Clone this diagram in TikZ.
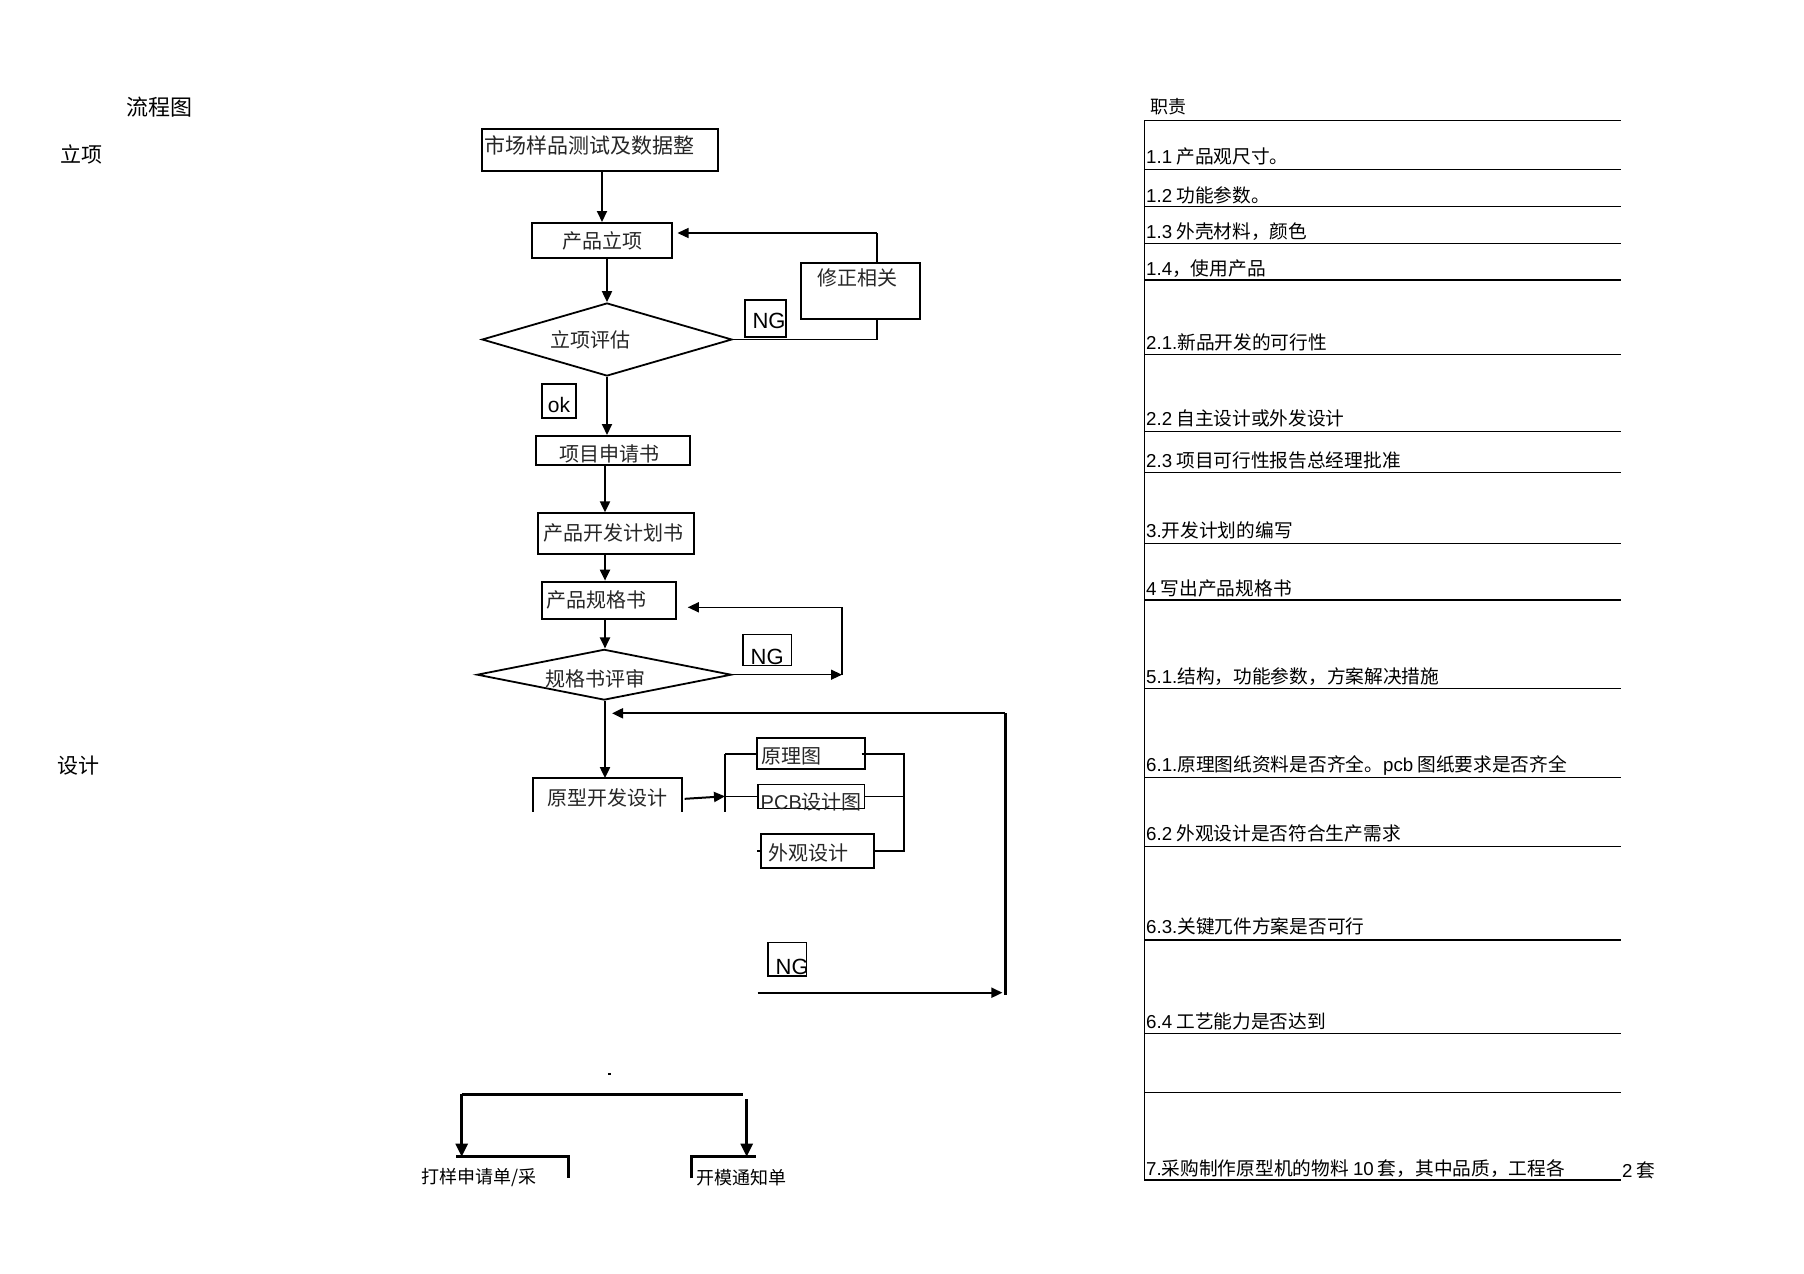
\documentclass[tikz,border=0pt]{standalone}
\usepackage{fontspec}
\setmainfont{Noto Sans CJK SC}
\newfontfamily\lat{Liberation Sans}
\usetikzlibrary{arrows.meta,shapes.geometric}
\newcommand\myfs[1]{\fontsize{#1pt}{#1pt}\selectfont}
\begin{document}
\begin{tikzpicture}[x=1pt,y=-1pt,
  box/.style={draw, line width=2pt, fill=white, inner sep=0pt, font=\myfs{20}, text=black!85},
  tbox/.style={draw, line width=1.4pt, fill=white, inner sep=0pt},
  dia/.style={draw, diamond, line width=1.8pt, inner sep=0pt, fill=white},
  lab/.style={font=\myfs{20}, text=black!85, inner sep=0pt},
  nglab/.style={font=\lat\myfs{22}, inner sep=0pt},
  arr/.style={line width=2pt, -{Triangle[length=11pt,width=10pt]}},
  tarr/.style={line width=1.4pt, -{Triangle[length=11pt,width=10pt]}},
  ln/.style={line width=2pt},
  tln/.style={line width=1.4pt},
  txt/.style={anchor=west, inner sep=0pt, font=\myfs{18.7}},
  rule/.style={line width=1.2pt}]
\useasboundingbox[fill=white] (0,0) rectangle (1804,1274);

% left titles
\node[anchor=west, inner sep=0pt, font=\myfs{22}] (tflow) at (126,106.7) {流程图};
\node[anchor=west, inner sep=0pt, font=\myfs{21}] (tli) at (60.7,154) {立项};
\node[anchor=west, inner sep=0pt, font=\myfs{21}] (tsj) at (57.5,766) {设计};

\coordinate (col) at (605,0);

% flowchart nodes
\node[box, minimum width=236pt, minimum height=42pt,
  label={[lab, font=\myfs{21}, xshift=-11pt, yshift=5pt]center:市场样品测试及数据整}] (n1) at (600,150) {};
\node[box, minimum width=140pt, minimum height=35pt] (n2) at (602,240.5) {产品立项};
\node[dia, minimum width=250pt, minimum height=73pt,
  label={[lab, xshift=-17pt]center:立项评估}] (d1) at (607,339.5) {};
\node[tbox, minimum width=41pt, minimum height=37pt,
  label={[nglab, xshift=3.5pt, yshift=-2pt]center:NG}] (ng1) at (765.5,318.5) {};
\node[tbox, minimum width=34pt, minimum height=34pt,
  label={[nglab, font=\lat\myfs{21}, yshift=-4pt]center:ok}] (ok) at (559,401) {};

\draw[arr] (n2.north |- n1.south) -- (n2.north);
\draw[arr] (d1.north |- n2.south) -- (d1.north);

% NG loop 1
\coordinate (L1) at (877,233);
\draw[tln] (d1.east) -| (L1);
\draw[tarr, shorten >=4.5pt] (L1) -- (L1 -| n2.east);
\node[tbox, minimum width=119pt, minimum height=56pt,
  label={[lab, xshift=-3.5pt, yshift=13pt]center:修正相关}] (n3) at (860.5,291) {};

\node[box, minimum width=153.6pt, minimum height=29pt,
  label={[lab, xshift=-3pt, yshift=-3pt]center:项目申请书}] (n4) at (612.8,450.5) {};
\node[box, minimum width=156.4pt, minimum height=40.7pt,
  label={[lab, xshift=-2.5pt, yshift=1pt]center:产品开发计划书}] (n5) at (615.7,533.7) {};
\node[box, minimum width=133.7pt, minimum height=37.3pt,
  label={[lab, xshift=-12pt]center:产品规格书}] (n6) at (608.9,600.3) {};
\node[dia, minimum width=254.4pt, minimum height=50.7pt,
  label={[lab, xshift=-8.5pt, yshift=-4.5pt]center:规格书评审}] (d2) at (604.2,674.7) {};
\node[tbox, minimum width=48.5pt, minimum height=31.4pt,
  label={[nglab, yshift=-6.5pt]center:NG}] (ng2) at (767.2,650) {};

\draw[arr] (d1.south) -- (d1.south |- n4.north);
\draw[arr] (col |- n4.south) -- (col |- n5.north);
\draw[arr] (col |- n5.south) -- (col |- n6.north);
\draw[arr] (col |- n6.south) -- (col |- d2.north);

% NG loop 2
\coordinate (L2) at (842,607.3);
\draw[tarr] (d2.east) -- (d2.east -| L2);
\draw[tarr, shorten >=11pt] (d2.east -| L2) -- (L2) -- (L2 -| n6.east);

% design stage
\node[minimum width=148.2pt, minimum height=33.4pt, inner sep=0pt,
  label={[lab, yshift=-3pt]center:原型开发设计}] (n7) at (607.3,795) {};
\draw[ln] (n7.south west) -- (n7.north west) -- (n7.north east) -- (n7.south east);
\draw[arr] (col |- d2.south) -- (col |- n7.north);

\node[box, minimum width=107.6pt, minimum height=31pt,
  label={[lab, xshift=-19pt, yshift=-3pt]center:原理图}] (n8) at (810.8,753.8) {};
\node[box, line width=1.6pt, minimum width=106.6pt, minimum height=24pt,
  label={[lab, yshift=-5.5pt]center:{{\lat PCB}设计图}}] (n9) at (811.3,796.3) {};
\node[box, minimum width=112.6pt, minimum height=33.7pt,
  label={[lab, xshift=-9pt, yshift=-2.5pt]center:外观设计}] (n10) at (817.3,850.8) {};

\coordinate (BX) at (725,0);
\coordinate (RX) at (904,0);
\draw[ln] (BX |- n8.west) -- (BX |- n7.south);
\draw[ln] (BX |- n8.west) -- (n8.west);
\draw[tln] (BX |- n9.west) -- (n9.west);
\draw[arr, shorten <=3pt] ([yshift=-4pt]n7.east) -- (BX |- n9.west);
\draw[ln] ([xshift=-4pt]n8.east) -- (RX |- n8.east) -- (RX |- n10.east) -- (n10.east);
\draw[tln] (n9.east) -- (RX |- n9.east);
\draw[ln] (n10.west) -- ++(-3,0);

% NG return
\node[tbox, line width=1.2pt, minimum width=38.5pt, minimum height=33.3pt,
  label={[nglab, xshift=5pt, yshift=-8pt]center:NG}] (ng3) at (787.2,959.3) {};
\coordinate (N3s) at (757.5,992.7);
\coordinate (R1) at (1005.4,713.3);
\coordinate (R2) at (1005.4,995);
\draw[arr, shorten >=3pt] (N3s) -- (N3s -| R1);
\draw[line width=2.8pt] (R2) -- (R1);
\draw[arr, shorten >=7pt] (R1) -- (R1 -| col);

% bottom
\fill (608,1072.5) rectangle (611,1074.5);
\coordinate (H1) at (461.7,1094.3);
\coordinate (H2) at (743.3,1094.3);
\coordinate (H3) at (746.7,1099);
\coordinate (K1) at (456,1156.7);
\coordinate (K2) at (568.3,1156.7);
\coordinate (K3) at (568.3,1178.3);
\coordinate (M1) at (691.7,1178.3);
\coordinate (M2) at (691.7,1156.7);
\coordinate (M3) at (756,1156.7);
\draw[line width=2.6pt] (H1) -- (H2);
\draw[line width=2.6pt, -{Triangle[length=13pt,width=12pt]}] (H1) -- (H1 |- K1);
\draw[line width=2.6pt, -{Triangle[length=13pt,width=12pt]}] (H3) -- (H3 |- M3);
\draw[line width=2.6pt] (K1) -- (K2) -- (K3);
\draw[line width=2.6pt] (M1) -- (M2) -- (M3);
\node[txt, font=\myfs{18}] (b1) at (421.7,1178) {打样申请单/采};
\node[txt, font=\myfs{18}] (b2) at (696,1178) {开模通知单};

% right column
\node[txt, font=\myfs{18}] (zz) at (1150.7,106.7) {职责};
\foreach \yy in {120.7,169.3,206.7,243.3,280,354.3,431.7,472.3,543.3,600,688.3,777.7,846.7,940,1033.3,1092.3,1180}
  \draw[rule] (1144.3,\yy) -- (1621,\yy);
\draw[rule] (1144.3,120.7) -- (1144.3,1180);
\node[txt] (r1) at (1146,156.7) {{\lat 1.1} 产品观尺寸。};
\node[txt] (r2) at (1146,195) {{\lat 1.2} 功能参数。};
\node[txt] (r3) at (1146,231.7) {{\lat 1.3} 外壳材料，颜色};
\node[txt] (r4) at (1146,268.3) {{\lat 1.4}，使用产品};
\node[txt] (r5) at (1146,342.7) {{\lat 2.1.}新品开发的可行性};
\node[txt] (r6) at (1146,418.3) {{\lat 2.2} 自主设计或外发设计};
\node[txt] (r7) at (1146,460) {{\lat 2.3} 项目可行性报告总经理批准};
\node[txt] (r8) at (1146,530) {{\lat 3.}开发计划的编写};
\node[txt] (r9) at (1146,588.3) {{\lat 4} 写出产品规格书};
\node[txt] (r10) at (1146,676.7) {{\lat 5.1.}结构，功能参数，方案解决措施};
\node[txt] (r11) at (1146,765) {{\lat 6.1.}原理图纸资料是否齐全。{\lat pcb} 图纸要求是否齐全};
\node[txt] (r12) at (1146,833.3) {{\lat 6.2} 外观设计是否符合生产需求};
\node[txt] (r13) at (1146,926.7) {{\lat 6.3.}关键兀件方案是否可行};
\node[txt] (r14) at (1146,1021.7) {{\lat 6.4} 工艺能力是否达到};
\node[txt] (r15) at (1146,1168.3) {{\lat 7.}采购制作原型机的物料 {\lat 10} 套，其中品质，工程各};
\node[txt] (r16) at (1622,1170) {{\lat 2} 套};
\end{tikzpicture}
\end{document}
